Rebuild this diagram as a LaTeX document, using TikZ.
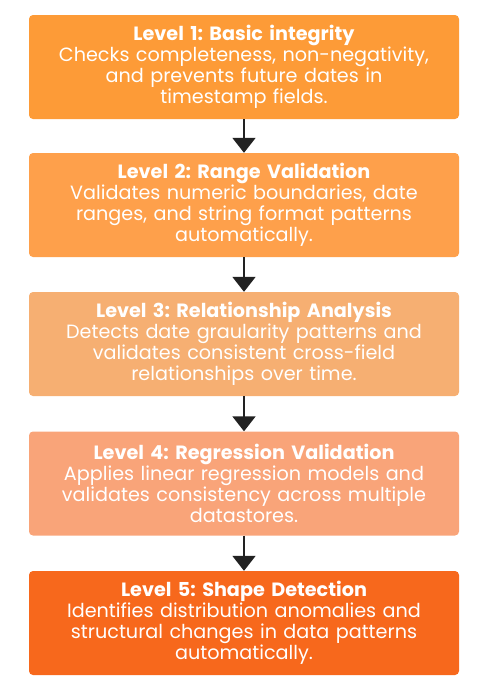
\documentclass[tikz,border=0pt]{standalone}
\usepackage{fontspec}
\setmainfont{Poppins}
\frenchspacing
\usetikzlibrary{arrows.meta}
\definecolor{cA}{HTML}{FD9B37}
\definecolor{cB}{HTML}{FEA04B}
\definecolor{cC}{HTML}{F6AF72}
\definecolor{cD}{HTML}{F9A479}
\definecolor{cE}{HTML}{F7681C}
\definecolor{arr}{HTML}{222222}
\tikzset{
  levelbox/.style={rectangle, rounded corners=4pt, minimum width=430pt, minimum height=104pt,
    text width=425pt, align=center, text=white, inner sep=0pt,
    font=\fontsize{19.2}{21}\selectfont},
  flowarrow/.style={draw=arr, line width=2pt, -{Triangle[width=23pt,length=15pt]}, shorten >=0pt}
}
\begin{document}
\begin{tikzpicture}[x=1pt,y=-1pt]
\useasboundingbox (0,0) rectangle (493,689);
\node[levelbox, fill=cA] (l1) at (244,67) {\textbf{Level 1: Basic integrity}\\Checks completeness, non-negativity,\\and prevents future dates in\\timestamp fields.};
\node[levelbox, fill=cB] (l2) at (244,205) {\textbf{Level 2: Range Validation}\\Validates numeric boundaries, date\\ranges, and string format patterns\\automatically.};
\node[levelbox, fill=cC] (l3) at (244,344) {\textbf{Level 3: Relationship Analysis}\\Detects date graularity patterns and\\validates consistent cross-field\\relationships over time.};
\node[levelbox, fill=cD] (l4) at (244,483.5) {\textbf{Level 4: Regression Validation}\\Applies linear regression models and\\validates consistency across multiple\\datastores.};
\node[levelbox, fill=cE] (l5) at (244,623) {\textbf{Level 5: Shape Detection}\\Identifies distribution anomalies and\\structural changes in data patterns\\automatically.};
\draw[flowarrow] (l1.south) -- (l2.north);
\draw[flowarrow] (l2.south) -- (l3.north);
\draw[flowarrow] (l3.south) -- (l4.north);
\draw[flowarrow] (l4.south) -- (l5.north);
\end{tikzpicture}
\end{document}
